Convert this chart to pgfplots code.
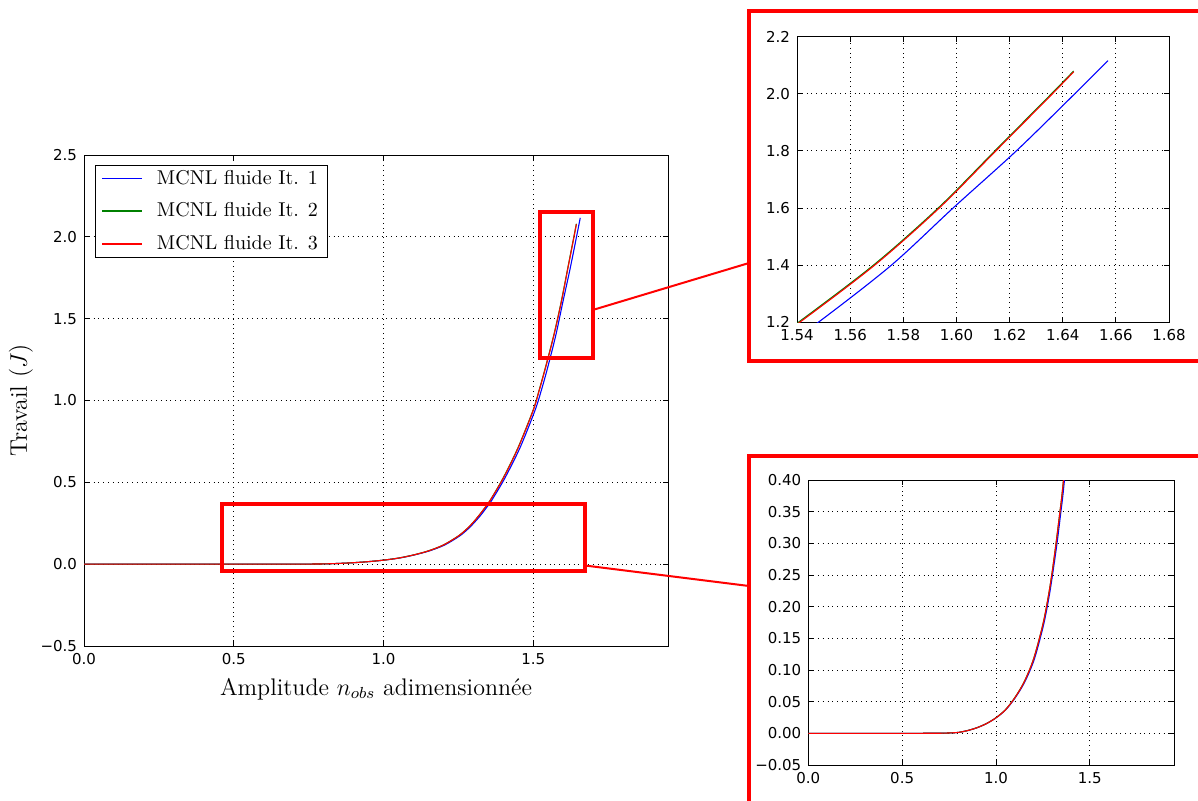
\documentclass[border=0pt]{standalone}
\usepackage{fontspec}
\usepackage{pgfplots}
\usepackage{pgfplotstable}
\pgfplotsset{compat=1.18}
\newfontfamily\djsans{DejaVu Sans}

\pgfplotstableread{
x y
0.00 0
0.50 0
0.70 0.0002
0.75 0.0006
0.80 0.0015
0.85 0.0045
0.90 0.0090
0.95 0.0155
1.00 0.0245
1.051 0.0370
1.102 0.0560
1.153 0.0810
1.204 0.1170
1.254 0.1720
1.284 0.2180
1.304 0.2560
1.325 0.3000
1.345 0.3480
1.361 0.3890
1.405 0.5250
1.456 0.7120
1.506 0.9400
1.527 1.0620
1.548 1.2000
1.5755 1.4000
1.5987 1.6000
1.6225 1.8000
1.6445 2.0000
1.657 2.1160
}\itone

\pgfplotstableread{
x y
0.00 0
0.50 0
0.70 0.0002
0.75 0.0006
0.80 0.0015
0.85 0.0045
0.90 0.0091
0.95 0.0156
1.00 0.0247
1.05 0.0373
1.10 0.0563
1.15 0.0813
1.20 0.1173
1.25 0.1723
1.28 0.2183
1.30 0.2563
1.32 0.3003
1.34 0.3483
1.356 0.3893
1.40 0.5280
1.45 0.7150
1.50 0.9430
1.52 1.0650
1.541 1.2035
1.5692 1.4035
1.5935 1.6035
1.6148 1.8035
1.6361 2.0035
1.6441 2.0800
}\ittwo

\pgfplotstableread{
x y
0.00 0
0.50 0
0.70 0.0002
0.75 0.0006
0.80 0.0015
0.85 0.0045
0.90 0.0090
0.95 0.0155
1.00 0.0245
1.05 0.0370
1.10 0.0560
1.15 0.0810
1.20 0.1170
1.25 0.1720
1.28 0.2180
1.30 0.2560
1.32 0.3000
1.34 0.3480
1.356 0.3890
1.40 0.5250
1.45 0.7120
1.50 0.9400
1.52 1.0620
1.541 1.2000
1.5692 1.4000
1.5935 1.6000
1.6148 1.8000
1.6361 2.0000
1.6441 2.0770
}\itthree

\definecolor{mplgreen}{rgb}{0,0.5,0}

\pgfplotsset{
  mystyle/.style={
    scale only axis,
    grid=major,
    grid style={black, dotted, line width=0.5pt},
    axis line style={line width=0.5pt},
    major tick length=2.5pt,
    tick style={black, line width=0.5pt},
    tick label style={font=\djsans\fontsize{7.5}{9}\selectfont},
    label style={font=\fontsize{12}{14}\selectfont},
  },
  curve/.style={line width=0.55pt, smooth, tension=0.5},
}

\begin{document}
\begin{tikzpicture}
\path[use as bounding box] (0,0) rectangle (599pt,400pt);
\clip (0,0) rectangle (599pt,400pt);

% main axis
\begin{axis}[mystyle,
  at={(42pt,77pt)}, anchor=south west, width=292pt, height=245.5pt,
  xmin=0, xmax=1.95, ymin=-0.5, ymax=2.5,
  xtick={0,0.5,1,1.5}, xticklabels={0.0,0.5,1.0,1.5},
  ytick={-0.5,0,0.5,1,1.5,2,2.5},
  yticklabels={−0.5,0.0,0.5,1.0,1.5,2.0,2.5},
  xlabel={Amplitude $n_{obs}$ adimensionnée},
  ylabel={Travail ($J$)},
  ylabel shift=-3pt,
  legend style={at={(0.019,0.98)}, anchor=north west, draw=black,
    line width=0.5pt, font=\fontsize{10}{12}\selectfont,
    inner xsep=3pt, inner ysep=0.3pt, row sep=3.8pt, column sep=5pt},
  legend cell align=left,
  legend image code/.code={\draw[#1, line width=0.7pt, sharp plot] (0pt,0pt) -- (20pt,0pt);},
]
\addplot[blue, curve] table[x=x,y=y] {\itone};
\addlegendentry{MCNL fluide It. 1}
\addplot[mplgreen, curve] table[x=x,y=y] {\ittwo};
\addlegendentry{MCNL fluide It. 2}
\addplot[red, curve] table[x=x,y=y] {\itthree};
\addlegendentry{MCNL fluide It. 3}
\draw[red, line width=2pt] (axis cs:1.521,1.261) rectangle (axis cs:1.701,2.149);
\draw[red, line width=2pt] (axis cs:0.461,-0.041) rectangle (axis cs:1.674,0.367);
\end{axis}

% inset 1
\begin{axis}[mystyle,
  at={(398.5pt,238.85pt)}, anchor=south west, width=186pt, height=142.8pt,
  xmin=1.54, xmax=1.68, ymin=1.2, ymax=2.2,
  xtick={1.54,1.56,1.58,1.60,1.62,1.64,1.66,1.68},
  xticklabels={1.54,1.56,1.58,1.60,1.62,1.64,1.66,1.68},
  ytick={1.2,1.4,1.6,1.8,2.0,2.2},
  yticklabels={1.2,1.4,1.6,1.8,2.0,2.2},
]
\addplot[blue, curve] table[x=x,y=y] {\itone};
\addplot[mplgreen, curve] table[x=x,y=y] {\ittwo};
\addplot[red, curve] table[x=x,y=y] {\itthree};
\end{axis}

% inset 2
\begin{axis}[mystyle,
  at={(404.15pt,17.5pt)}, anchor=south west, width=183pt, height=142.5pt,
  xmin=0, xmax=1.95, ymin=-0.05, ymax=0.40,
  xtick={0,0.5,1,1.5}, xticklabels={0.0,0.5,1.0,1.5},
  ytick={-0.05,0,0.05,0.10,0.15,0.20,0.25,0.30,0.35,0.40},
  yticklabels={−0.05,0.00,0.05,0.10,0.15,0.20,0.25,0.30,0.35,0.40},
]
\addplot[blue, curve] table[x=x,y=y] {\itone};
\addplot[mplgreen, curve] table[x=x,y=y] {\ittwo};
\addplot[red, curve] table[x=x,y=y] {\itthree};
\end{axis}

% frames and connectors (pixel coordinates)
\begin{scope}[shift={(0pt,400pt)}, x=0.5pt, y=-0.5pt]
\draw[red, line width=2.25pt] (1230,11) -- (749,11) -- (749,361) -- (1230,361);
\draw[red, line width=2.25pt] (1230,456) -- (749,456) -- (749,830);
\draw[red, line width=1pt] (595,309.3) -- (749,263);
\draw[red, line width=1pt] (586.7,565.7) -- (749,586);
\end{scope}
\end{tikzpicture}
\end{document}
